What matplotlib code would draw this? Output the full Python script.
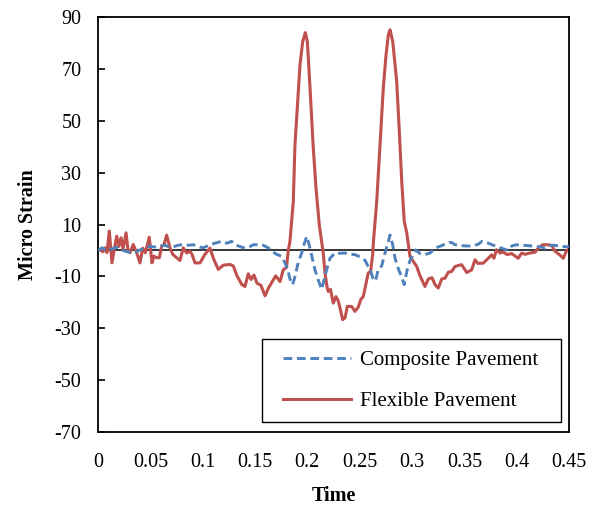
import matplotlib
matplotlib.use("Agg")
import matplotlib.pyplot as plt
from matplotlib.patches import Rectangle

plt.rcParams['font.family'] = ['Liberation Serif', 'DejaVu Serif']
plt.rcParams['axes.unicode_minus'] = False

# Flexible pavement (solid red)
flex_t = [0, 0.0019, 0.0048, 0.0067, 0.0086, 0.0108, 0.0134, 0.0153, 0.0179, 0.0198,
          0.0220, 0.0239, 0.0268, 0.0287, 0.0306, 0.0337, 0.0370, 0.0401, 0.0427, 0.0452,
          0.0490, 0.0516, 0.0535, 0.0561, 0.0586, 0.0609, 0.0631, 0.0656, 0.0688, 0.0714,
          0.0752, 0.0783, 0.0815, 0.0847, 0.0879, 0.0898, 0.0927, 0.0975, 0.1022, 0.1070,
          0.1102, 0.1149, 0.1197, 0.1261, 0.1293, 0.1325, 0.1373, 0.1404, 0.1436, 0.1462,
          0.1490, 0.1519, 0.1557, 0.1596, 0.1629, 0.1665, 0.1698, 0.1739, 0.1770, 0.1801,
          0.1818, 0.1834, 0.1866, 0.1882, 0.1904, 0.1930, 0.1956, 0.1981, 0.2000, 0.2026,
          0.2057, 0.2083, 0.2114, 0.2137, 0.2152, 0.2169, 0.2188, 0.2200, 0.2221, 0.2248,
          0.2274, 0.2296, 0.2317, 0.2338, 0.2360, 0.2382, 0.2424, 0.2455, 0.2487, 0.2510,
          0.2535, 0.2560, 0.2582, 0.2605, 0.2624, 0.2632, 0.2663, 0.2694, 0.2726, 0.2752,
          0.2774, 0.2790, 0.2816, 0.2854, 0.2879, 0.2902, 0.2926, 0.2949, 0.2981, 0.3012,
          0.3045, 0.3076, 0.3124, 0.3156, 0.3191, 0.3220, 0.3251, 0.3284, 0.3315, 0.3347,
          0.3379, 0.3411, 0.3442, 0.3475, 0.3523, 0.3570, 0.3602, 0.3630, 0.3681, 0.3729,
          0.3761, 0.3783, 0.3807, 0.3841, 0.3872, 0.3908, 0.3952, 0.4015, 0.4048, 0.4079,
          0.4127, 0.4175, 0.4207, 0.4249, 0.4287, 0.4335, 0.4366, 0.4414, 0.4445, 0.4478,
          0.45]
flex_v = [0, 0.3, -0.5, 1, -0.8, 7.5, -4.8, 0, 5.5, 1.5,
          4.9, 0.4, 6.8, 0, -0.9, 2.3, -0.9, -4.8, 0.9, -0.9,
          5.1, -4.8, -2.2, -2.8, -2.8, 1.7, 2.3, 5.9, 1, -1.5,
          -2.8, -3.9, 1, -1, -0.3, -1.5, -4.8, -4.8, -1.5, 0.9,
          -3, -7.3, -5.7, -5.4, -6, -9.5, -13.1, -13.9, -9, -11.2,
          -9.5, -12.6, -13.5, -17.5, -14.5, -12, -9.8, -12, -7.5, -6.5,
          0, 3.5, 18.9, 40.7, 54.9, 71.6, 80.6, 84.0, 80.6, 62.6,
          39.4, 24, 10, 3.5, -1, -8.7, -14, -15.8, -15, -20.3,
          -17.8, -19.5, -23, -26.7, -26, -21.6, -21.6, -23.5, -21.8, -19,
          -17.7, -13, -8.7, -8, -1.7, 3.5, 18.9, 40.7, 62.6, 75.4,
          83.1, 85.1, 80.6, 65.1, 45.9, 26.6, 11.2, 7, -2.3, -4.2,
          -6.2, -9.7, -13.9, -11, -10.5, -13.2, -14.5, -11, -10.7, -8.4,
          -8.1, -6.2, -5.8, -5.5, -8.5, -7.5, -3.6, -5, -4.9, -3,
          -1.7, -3, 0.3, -1, -0.6, -1.6, -1.2, -3, -1, -1.5,
          -1, -0.7, 0.9, 2.2, 2.2, 2, -0.3, -1.8, -3, 0,
          0.5]

# Composite pavement (dashed blue)
comp_t = [0, 0.0038, 0.0076, 0.0124, 0.0179, 0.0239, 0.0277, 0.0334, 0.0401, 0.0449,
          0.0497, 0.0545, 0.0592, 0.0640, 0.0688, 0.0736, 0.0767, 0.0815, 0.0863, 0.0910,
          0.0958, 0.1006, 0.1070, 0.1118, 0.1182, 0.1230, 0.1277, 0.1309, 0.1357, 0.1404,
          0.1452, 0.1484, 0.1532, 0.1579, 0.1627, 0.1665, 0.1707, 0.1755, 0.1787, 0.1810,
          0.1834, 0.1860, 0.1882, 0.1914, 0.1946, 0.1968, 0.1994, 0.2016, 0.2042, 0.2073,
          0.2105, 0.2137, 0.2169, 0.2200, 0.2217, 0.2264, 0.2312, 0.2360, 0.2408, 0.2455,
          0.2503, 0.2551, 0.2580, 0.2599, 0.2624, 0.2651, 0.2678, 0.2710, 0.2742, 0.2774,
          0.2790, 0.2814, 0.2838, 0.2869, 0.2902, 0.2926, 0.2952, 0.2981, 0.3012, 0.3035,
          0.3076, 0.3124, 0.3172, 0.3220, 0.3267, 0.3315, 0.3353, 0.3382, 0.3411, 0.3459,
          0.3523, 0.3586, 0.3633, 0.3669, 0.3729, 0.3777, 0.3824, 0.3872, 0.3920, 0.3955,
          0.4000, 0.4060, 0.4127, 0.4191, 0.4239, 0.4271, 0.4299, 0.4350, 0.4398, 0.4445,
          0.45]
comp_v = [0, 1, 0, 0.5, 1.2, 0, -0.5, -0.9, 0.2, 1,
          1.6, 1.3, 1.6, 2, 1.2, 1.6, 2, 2.3, 2, 2.2,
          1.5, 1, 2.2, 2.8, 3.5, 2.8, 3.5, 2.2, 1.5, 0.9,
          1.5, 2.2, 2.2, 2, 1, -0.4, -1.5, -2.3, -4.9, -7,
          -11, -13.2, -10, -4.5, -1, 2.2, 5.4, 2.5, -2, -7.5,
          -11.5, -15, -9.8, -5.2, -3, -1, -1.1, -1, -1.5, -1.6,
          -2.5, -3.8, -6, -7, -10.5, -11.8, -7.2, -6, -1, 3.3,
          6, 2.5, -3, -7, -10.3, -13.2, -7.8, -3.9, -1.7, 0.2,
          -1.2, -1.6, -1, 0.9, 1.6, 2.4, 3.1, 3, 2.2, 1.9,
          1.7, 1.8, 2.4, 3.5, 2.8, 2, 1.5, 0.6, 0, 1.8,
          2.2, 2, 1.8, 1.5, 1.3, 0.9, 1.8, 2, 1.8, 1.5,
          1.4]

x_ticks = [0, 0.05, 0.1, 0.15, 0.2, 0.25, 0.3, 0.35, 0.4, 0.45]
x_labels = ['0', '0.05', '0.1', '0.15', '0.2', '0.25', '0.3', '0.35', '0.4', '0.45']
y_ticks = [-70, -50, -30, -10, 10, 30, 50, 70, 90]

fig = plt.figure(figsize=(6.03, 5.11), dpi=100)
ax = fig.add_axes([0.1625, 0.1546, 0.7811, 0.8121])

ax.axhline(0, color='black', lw=1.1, zorder=1)
ax.plot(comp_t, comp_v, color='#4F81BD', lw=2.1, linestyle=(0, (3, 1.6)),
        label='Composite Pavement', zorder=3)
ax.plot(flex_t, flex_v, color='#C0504D', lw=2.2, label='Flexible Pavement', zorder=2)

ax.set_xlim(0, 0.45)
ax.set_ylim(-70, 90)
ax.set_xticks(x_ticks)
ax.set_xticklabels(x_labels)
ax.set_yticks(y_ticks)
ax.tick_params(axis='x', length=0, pad=15, labelsize=14.5)
ax.tick_params(axis='y', direction='in', length=5, width=1.2, pad=12, labelsize=14.5)
for s in ax.spines.values():
    s.set_linewidth(1.3)
    s.set_color('black')

ax.set_xlabel('Time', fontsize=14.5, fontweight='bold', labelpad=10)
ax.set_ylabel('Micro Strain', fontsize=14.5, fontweight='bold', labelpad=12)

leg = ax.legend(loc='center left', bbox_to_anchor=(0.3934, 0.1233), frameon=False,
                fontsize=15, handlelength=3.27, handletextpad=0.4, labelspacing=1.05,
                borderpad=0, borderaxespad=0)
ax.add_patch(Rectangle((0.3476, 0.0234), 0.6354, 0.2007, transform=ax.transAxes,
                       fill=False, edgecolor='black', lw=1.0, zorder=4))

fig.savefig('out.png', dpi=100)
